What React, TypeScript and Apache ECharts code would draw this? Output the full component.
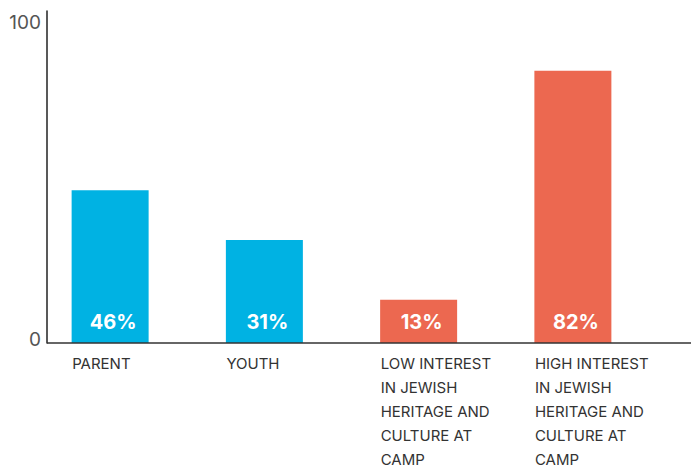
import React, { useEffect, useRef } from "react";
import * as echarts from "echarts";

const categories = [
  "PARENT",
  "YOUTH",
  "LOW INTEREST\nIN JEWISH\nHERITAGE AND\nCULTURE AT\nCAMP",
  "HIGH INTEREST\nIN JEWISH\nHERITAGE AND\nCULTURE AT\nCAMP",
];
const values = [46, 31, 13, 82];
const barColors = ["#00B2E3", "#00B2E3", "#EC6850", "#EC6850"];
const yTicks = [0, 100];

export default function App() {
  const ref = useRef<HTMLDivElement>(null);
  useEffect(() => {
    if (!ref.current) return;
    const chart = echarts.init(ref.current, null, { renderer: "svg" });
    chart.setOption({
      animation: false,
      grid: { left: 33, right: 41, top: 11, bottom: 126, containLabel: false },
      xAxis: {
        type: "category",
        data: categories,
        axisLine: { show: false },
        axisTick: { show: false },
        axisLabel: {
          margin: 8,
          align: "center",
          verticalAlign: "top",
          formatter: (v: string) =>
            v
              .split("\n")
              .map((l) => "{a|" + l + "}")
              .join("\n"),
          rich: {
            a: {
              width: 76,
              align: "left",
              fontFamily: "Inter",
              fontSize: 15,
              lineHeight: 24,
              color: "#333333",
            },
          },
        },
      },
      yAxis: {
        type: "value",
        min: yTicks[0],
        max: yTicks[1],
        interval: 100,
        offset: -14,
        axisLine: { show: true, lineStyle: { color: "#222222", width: 1.5 } },
        axisTick: { show: false },
        splitLine: { show: false },
        axisLabel: {
          margin: 6,
          fontFamily: "Inter",
          fontSize: 19,
          color: "#555555",
          formatter: (v: number) => (v === 0 ? "{b|0}" : "{t|" + v + "}"),
          rich: {
            t: { fontFamily: "Inter", fontSize: 19, color: "#555555", padding: [22, 0, 0, 0] },
            b: { fontFamily: "Inter", fontSize: 19, color: "#555555", padding: [0, 0, 8, 0] },
          },
        },
      },
      graphic: [
        {
          type: "line",
          shape: { x1: 47, y1: 343, x2: 691, y2: 343 },
          style: { stroke: "#333333", lineWidth: 1.5 },
          z: 10,
        },
      ],
      series: [
        {
          type: "bar",
          barWidth: 77,
          data: values.map((v, i) => ({ value: v, itemStyle: { color: barColors[i] } })),
          label: {
            show: true,
            position: "insideBottom",
            distance: 11,
            offset: [3, 0],
            formatter: "{c}%",
            color: "#ffffff",
            fontFamily: "Inter",
            fontWeight: "bold",
            fontSize: 20,
          },
        },
      ],
    });
    return () => chart.dispose();
  }, []);
  return <div ref={ref} style={{ width: 691, height: 469, position: "absolute", left: 0, top: 0 }} />;
}
